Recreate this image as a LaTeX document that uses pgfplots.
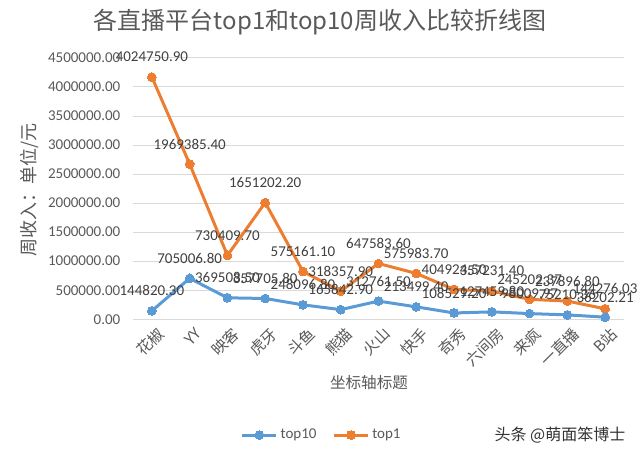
\documentclass[border=0pt]{standalone}
\usepackage{pgfplots}
\pgfplotsset{compat=1.18}
\usepackage{pgfplotstable}
\usepackage{fontspec}
\setmainfont{Carlito}
\newfontfamily\cjk{Noto Sans CJK SC}
\definecolor{cblue}{HTML}{5B9BD5}
\definecolor{corange}{HTML}{ED7D31}
\definecolor{cgrid}{HTML}{D9D9D9}
\definecolor{ctext}{HTML}{595959}
\definecolor{clab}{HTML}{404040}

\pgfplotstableread{
x name top10 top1
0 花椒 144820.30 4024750.90
1 YY 705006.80 1969385.40
2 映客 369508.50 730409.70
3 虎牙 357705.80 1651202.20
4 斗鱼 248096.80 575161.10
5 熊猫 165842.90 318357.90
6 火山 312761.50 647583.60
7 快手 213499.40 575983.70
8 奇秀 108529.20 404924.50
9 六间房 127459.80 357231.40
10 来疯 98009.97 245202.37
11 一直播 75210.36 237896.80
12 B站 36202.21 144276.03
}\datatable

\begin{document}
\begin{tikzpicture}
\useasboundingbox (0,0) rectangle (480pt,342.75pt);
\begin{axis}[
  at={(99.75pt,103.3pt)}, anchor=south west,
  width=368.25pt, height=196pt, scale only axis,
  xmin=-0.5, xmax=12.5, ymin=0, ymax=4500000,
  stack plots=y,
  clip=false,
  axis line style={draw=none},
  major tick length=0pt,
  ymajorgrids, grid style={cgrid, line width=0.75pt},
  ytick={0,500000,1000000,1500000,2000000,2500000,3000000,3500000,4000000,4500000},
  scaled y ticks=false,
  yticklabel style={/pgf/number format/fixed, /pgf/number format/zerofill, /pgf/number format/precision=2, /pgf/number format/1000 sep={}, /pgf/number format/assume math mode=true, font=\fontsize{11.25}{13}\selectfont, text=ctext, xshift=-6pt},
  xtick={0,...,12},
  xticklabels={花椒,YY,映客,虎牙,斗鱼,熊猫,火山,快手,奇秀,六间房,来疯,一直播,B站},
  xticklabel style={font=\cjk\fontsize{11.5}{13}\selectfont, text=ctext, rotate=45, anchor=east, yshift=-11pt, xshift=2pt},
  point meta=explicit symbolic,
  nodes near coords,
  every node near coord/.append style={anchor=center, yshift=15pt, font=\fontsize{11.25}{13}\selectfont, text=clab},
  legend columns=2,
  legend style={at={(0.385,-0.443)}, anchor=center, draw=none, fill=none, font=\fontsize{11.25}{13}\selectfont, text=ctext, /tikz/every even column/.append style={column sep=10pt}},
  legend image code/.code={\draw[mark repeat=2, mark phase=2] plot coordinates {(0cm,0cm) (0.45cm,0cm) (0.9cm,0cm)};},
]
\addplot[cblue, line width=2.25pt, mark=*, mark size=3.3pt, mark options={solid, fill=cblue, draw=cblue, line width=0pt}] table[x=x, y=top10, meta=top10] {\datatable};
\addlegendentry{top10}
\addplot[corange, line width=2.25pt, mark=*, mark size=3.3pt, mark options={solid, fill=corange, draw=corange, line width=0pt}] table[x=x, y=top1, meta=top1] {\datatable};
\addlegendentry{top1}
\end{axis}
\node[font=\cjk\fontsize{18}{20}\selectfont, text=ctext] at (240pt,326.25pt) {各直播平台top1和top10周收入比较折线图};
\node[font=\cjk\fontsize{13.5}{15}\selectfont, text=ctext, rotate=90] at (21.75pt,200.25pt) {周收入：单位/元};
\node[font=\cjk\fontsize{11.7}{13}\selectfont, text=ctext] at (276.75pt,55.5pt) {坐标轴标题};
\node[font=\cjk\fontsize{12}{14}\selectfont, text=black!80] at (420pt,16.5pt) {头条 @萌面笨博士};
\end{tikzpicture}
\end{document}
